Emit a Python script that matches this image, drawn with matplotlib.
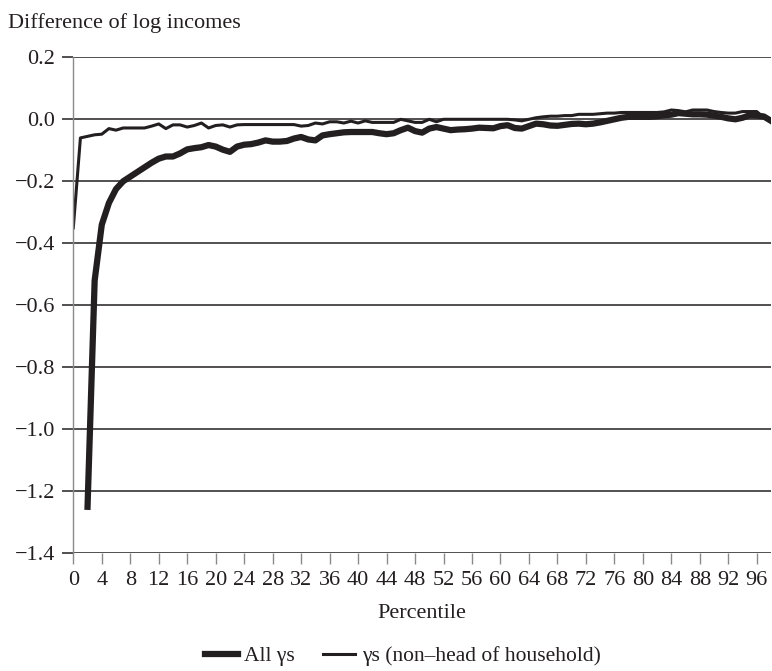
import numpy as np
import matplotlib
matplotlib.use('Agg')
import matplotlib.pyplot as plt
from matplotlib.ticker import FixedLocator, FixedFormatter

INK = '#231f20'
AXIS_GREY = '#8a8a8a'

percentile = list(range(99))

# difference of log incomes, all gammas (first two percentiles missing)
all_gammas = [
    np.nan, np.nan, -1.25, -0.52, -0.34, -0.27, -0.225, -0.20, -0.185, -0.17,
    -0.155, -0.14, -0.127, -0.12, -0.12, -0.11, -0.097, -0.093, -0.09, -0.083,
    -0.088, -0.098, -0.105, -0.088, -0.082, -0.08, -0.075, -0.068, -0.072, -0.072,
    -0.07, -0.062, -0.057, -0.065, -0.068, -0.052, -0.048, -0.045, -0.042, -0.041,
    -0.041, -0.041, -0.041, -0.045, -0.048, -0.045, -0.035, -0.027, -0.038, -0.043,
    -0.03, -0.025, -0.03, -0.035, -0.033, -0.032, -0.03, -0.027, -0.028, -0.029,
    -0.022, -0.019, -0.028, -0.03, -0.022, -0.014, -0.016, -0.02, -0.021, -0.018,
    -0.015, -0.014, -0.016, -0.014, -0.01, -0.005, 0.0, 0.005, 0.008, 0.008,
    0.008, 0.008, 0.01, 0.013, 0.015, 0.02, 0.018, 0.016, 0.016, 0.015,
    0.012, 0.008, 0.003, 0.0, 0.005, 0.013, 0.012, 0.009, -0.005,
]

# gammas for non-head of household only
non_head = [
    -0.35, -0.06, -0.055, -0.05, -0.048, -0.03, -0.035, -0.028, -0.028, -0.028,
    -0.028, -0.022, -0.015, -0.03, -0.018, -0.018, -0.025, -0.02, -0.012, -0.028,
    -0.02, -0.018, -0.025, -0.018, -0.017, -0.017, -0.017, -0.017, -0.017, -0.017,
    -0.017, -0.017, -0.022, -0.02, -0.012, -0.015, -0.008, -0.008, -0.012, -0.006,
    -0.012, -0.005, -0.01, -0.01, -0.01, -0.01, 0.0, -0.005, -0.01, -0.01,
    0.0, -0.008, 0.0, 0.0, 0.0, 0.0, 0.0, 0.0, 0.0, 0.0,
    0.0, 0.0, -0.002, -0.005, 0.0, 0.005, 0.008, 0.01, 0.01, 0.012,
    0.012, 0.016, 0.016, 0.016, 0.018, 0.02, 0.02, 0.022, 0.022, 0.022,
    0.022, 0.022, 0.022, 0.024, 0.03, 0.028, 0.024, 0.03, 0.03, 0.03,
    0.025, 0.022, 0.02, 0.02, 0.025, 0.025, 0.025, 0.005, -0.005,
]

y_ticks = [0.2, 0.0, -0.2, -0.4, -0.6, -0.8, -1.0, -1.2, -1.4]
x_ticks = list(range(0, 97, 4))

plt.rcParams['font.family'] = ['Liberation Serif', 'DejaVu Serif']
plt.rcParams['font.size'] = 16

fig = plt.figure(figsize=(7.72, 6.71), dpi=100)
ax = fig.add_axes([73.3 / 772, 1 - 553.3 / 671, (771 - 73.3) / 772, (553.3 - 57.3) / 671])

ax.plot(percentile, all_gammas, color=INK, linewidth=4.5, solid_joinstyle='round',
        label='All γs')
ax.plot(percentile, non_head, color=INK, linewidth=2.2, solid_joinstyle='round',
        label='γs (non–head of household)')

ax.set_xlim(0, 98)
ax.set_ylim(-1.4, 0.2)

# horizontal rules, extended past the axis as ticks
for y in y_ticks:
    ax.axhline(y, color=INK, linewidth=1.1, zorder=0)
ax.yaxis.set_major_locator(FixedLocator(y_ticks))
ax.yaxis.set_major_formatter(FixedFormatter(
    ['{:.1f}'.format(v).replace('-', '\u2212') for v in y_ticks]))
ax.tick_params(axis='y', direction='out', length=8, width=1.1, color=INK, pad=5,
               labelcolor=INK, labelsize=16)

ax.xaxis.set_major_locator(FixedLocator(x_ticks))
ax.xaxis.set_major_formatter(FixedFormatter([str(v) for v in x_ticks]))
ax.tick_params(axis='x', direction='out', length=8, width=1.0, color=AXIS_GREY, pad=5,
               labelcolor=INK, labelsize=16)

for side in ('top', 'right', 'bottom'):
    ax.spines[side].set_visible(False)
ax.spines['left'].set_color(AXIS_GREY)
ax.spines['left'].set_linewidth(1.0)

ax.set_xlabel('Percentile', fontsize=16, color=INK, labelpad=10)
fig.text(8 / 772, 1 - 23 / 671, 'Difference of log incomes', fontsize=16, color=INK,
         ha='left', va='center')

fig.legend(loc='center', bbox_to_anchor=(0.522, 1 - 656 / 671), ncol=2, frameon=False,
           fontsize=15.5, handlelength=1.5, columnspacing=1.3, handletextpad=0.3,
           labelcolor=INK)

fig.savefig('out.png', dpi=100)
